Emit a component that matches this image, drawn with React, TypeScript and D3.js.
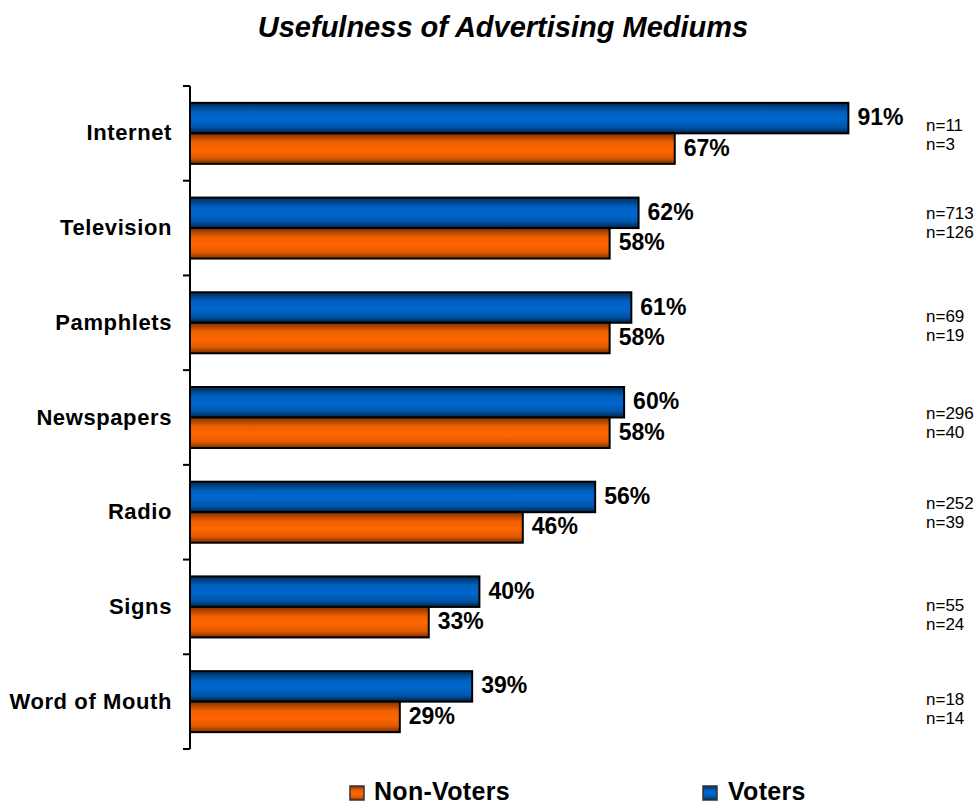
import React from "react";
import * as d3 from "d3";

const categories = ["Internet", "Television", "Pamphlets", "Newspapers", "Radio", "Signs", "Word of Mouth"];
const voters = [91, 62, 61, 60, 56, 40, 39];
const nonVoters = [67, 58, 58, 58, 46, 33, 29];
const votersN = [11, 713, 69, 296, 252, 55, 18];
const nonVotersN = [3, 126, 19, 40, 39, 24, 14];
const seriesNames = ["Non-Voters", "Voters"];
const title = "Usefulness of Advertising Mediums";

// layout: vertical nudges of the n= annotations relative to each band centre
const nNudge = [1, -6, 3, 4.5, 0, 8, 7];

export default function App() {
  const W = 977, H = 805;
  const x0 = 190;
  const x = d3.scaleLinear().domain([0, 100]).range([x0, x0 + 723.5]);
  const y = d3.scaleBand().domain(categories).range([86, 749]).paddingInner(0).paddingOuter(0);
  const bw = y.bandwidth();
  const barH = 30.5;
  const off = (bw - 2 * barH) / 2;
  const font = "'Liberation Sans', Arial, sans-serif";
  const ticks = d3.range(categories.length + 1).map((i) => 86 + i * bw);

  return (
    <svg width={W} height={H} style={{ display: "block", position: "absolute", left: 0, top: 0 }} fontFamily={font}>
      <defs>
        <linearGradient id="gBlue" x1="0" y1="0" x2="0" y2="1">
          <stop offset="0" stopColor="#002a55" />
          <stop offset="0.3" stopColor="#0060c0" />
          <stop offset="0.55" stopColor="#0066cc" />
          <stop offset="0.8" stopColor="#0055aa" />
          <stop offset="1" stopColor="#002244" />
        </linearGradient>
        <linearGradient id="gOrange" x1="0" y1="0" x2="0" y2="1">
          <stop offset="0" stopColor="#803000" />
          <stop offset="0.3" stopColor="#f06000" />
          <stop offset="0.55" stopColor="#ff6600" />
          <stop offset="0.8" stopColor="#e05a00" />
          <stop offset="1" stopColor="#7a2e00" />
        </linearGradient>
      </defs>
      <rect width={W} height={H} fill="#fff" />
      <text x={503} y={37} textAnchor="middle" fontSize={29} fontWeight="bold" fontStyle="italic">{title}</text>
      {categories.map((c, i) => {
        const top = (y(c) as number) + off;
        const cy = (y(c) as number) + bw / 2;
        const ny = cy + nNudge[i];
        return (
          <g key={c}>
            <rect x={x(0)} y={top} width={x(voters[i]) - x(0)} height={barH} fill="url(#gBlue)" stroke="#000" strokeWidth={2} />
            <rect x={x(0)} y={top + barH} width={x(nonVoters[i]) - x(0)} height={barH} fill="url(#gOrange)" stroke="#000" strokeWidth={2} />
            <text x={x(voters[i]) + 9} y={top + barH / 2 + 7} fontSize={23} fontWeight="bold">{voters[i]}%</text>
            <text x={x(nonVoters[i]) + 9} y={top + barH * 1.5 + 7} fontSize={23} fontWeight="bold">{nonVoters[i]}%</text>
            <text x={172} y={cy + 7} textAnchor="end" fontSize={22} fontWeight="bold" letterSpacing={0.6}>{c}</text>
            <text x={926} y={ny - 3.5} fontSize={17}>n={votersN[i]}</text>
            <text x={926} y={ny + 15.5} fontSize={17}>n={nonVotersN[i]}</text>
          </g>
        );
      })}
      <line x1={x0} x2={x0} y1={86} y2={749} stroke="#000" strokeWidth={2} />
      {ticks.map((t, i) => (
        <line key={i} x1={x0 - 7} x2={x0} y1={t} y2={t} stroke="#000" strokeWidth={2} />
      ))}
      <g>
        <rect x={350} y={786} width={14} height={14} fill="url(#gOrange)" stroke="#333" strokeWidth={1.5} />
        <text x={374} y={800} fontSize={25} fontWeight="bold" letterSpacing={0.3}>{seriesNames[0]}</text>
        <rect x={703} y={786} width={14} height={14} fill="url(#gBlue)" stroke="#333" strokeWidth={1.5} />
        <text x={728} y={800} fontSize={25} fontWeight="bold" letterSpacing={0.3}>{seriesNames[1]}</text>
      </g>
    </svg>
  );
}
